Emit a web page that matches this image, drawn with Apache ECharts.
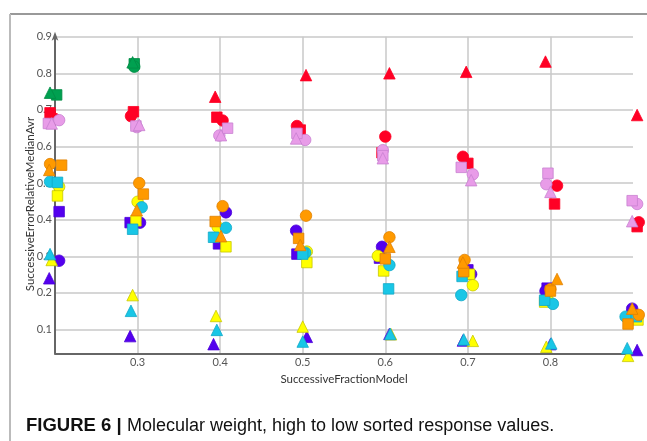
<!DOCTYPE html>
<html><head><meta charset="utf-8">
<script src="https://cdn.jsdelivr.net/npm/echarts@6/dist/echarts.min.js"></script>
<style>html,body{margin:0;padding:0;background:#fff}#c{width:647px;height:441px}</style>
</head><body><div id="c"></div>
<script>
// tick labels
const xTicks = [0.3, 0.4, 0.5, 0.6, 0.7, 0.8];
const yTicks = [0.1, 0.2, 0.3, 0.4, 0.5, 0.6, 0.7, 0.8, 0.9];
const xName = 'SuccessiveFractionModel';
const yName = 'SuccessiveErrorRelativeMedianAvr';
const captionLead = 'FIGURE 6 |';
const caption = 'Molecular weight, high to low sorted response values.';

// series values [x, y]
const blueTri   = [[0.193,0.24],[0.291,0.082],[0.392,0.06],[0.505,0.08],[0.605,0.088],[0.694,0.07],[0.8,0.06],[0.905,0.044]];
const blueSq    = [[0.205,0.422],[0.291,0.392],[0.398,0.334],[0.493,0.306],[0.593,0.295],[0.7,0.263],[0.796,0.213],[0.899,0.14]];
const blueCirc  = [[0.205,0.288],[0.303,0.392],[0.407,0.42],[0.492,0.37],[0.596,0.326],[0.704,0.251],[0.794,0.205],[0.899,0.157]];
const yellowTri = [[0.196,0.29],[0.294,0.194],[0.395,0.137],[0.5,0.108],[0.607,0.087],[0.706,0.069],[0.795,0.053],[0.894,0.028]];
const yellowCirc= [[0.205,0.49],[0.3,0.449],[0.397,0.38],[0.505,0.313],[0.591,0.301],[0.706,0.221],[0.797,0.18],[0.905,0.13]];
const yellowSq  = [[0.203,0.465],[0.298,0.397],[0.407,0.326],[0.505,0.283],[0.598,0.26],[0.702,0.251],[0.793,0.175],[0.906,0.126]];
const cyanTri   = [[0.194,0.306],[0.292,0.151],[0.396,0.099],[0.5,0.067],[0.606,0.088],[0.695,0.073],[0.801,0.062],[0.893,0.049]];
const cyanCirc  = [[0.194,0.504],[0.305,0.434],[0.407,0.378],[0.503,0.31],[0.605,0.276],[0.692,0.194],[0.803,0.17],[0.891,0.135]];
const cyanSq    = [[0.203,0.502],[0.294,0.374],[0.392,0.352],[0.5,0.306],[0.604,0.211],[0.693,0.245],[0.793,0.18],[0.904,0.135]];
const orangeCirc= [[0.194,0.552],[0.302,0.5],[0.403,0.437],[0.504,0.411],[0.605,0.352],[0.696,0.29],[0.8,0.21],[0.907,0.14]];
const orangeSq  = [[0.208,0.549],[0.307,0.47],[0.394,0.395],[0.495,0.349],[0.6,0.293],[0.695,0.258],[0.8,0.205],[0.894,0.115]];
const orangeTri = [[0.193,0.536],[0.299,0.426],[0.401,0.355],[0.497,0.331],[0.605,0.326],[0.694,0.283],[0.808,0.238],[0.899,0.157]];
const redTri    = [[0.2,0.68],[0.394,0.736],[0.504,0.795],[0.605,0.8],[0.698,0.804],[0.794,0.832],[0.905,0.686]];
const redCirc   = [[0.2,0.675],[0.292,0.683],[0.403,0.671],[0.493,0.656],[0.6,0.627],[0.694,0.572],[0.808,0.493],[0.907,0.393]];
const redSq     = [[0.194,0.692],[0.295,0.695],[0.396,0.68],[0.497,0.645],[0.596,0.583],[0.7,0.554],[0.805,0.443],[0.905,0.381]];
const violetCirc= [[0.205,0.672],[0.299,0.653],[0.399,0.63],[0.503,0.618],[0.597,0.59],[0.706,0.524],[0.795,0.497],[0.905,0.443]];
const violetSq  = [[0.192,0.663],[0.298,0.656],[0.409,0.65],[0.493,0.636],[0.597,0.575],[0.692,0.543],[0.797,0.527],[0.899,0.452]];
const violetTri = [[0.196,0.663],[0.302,0.659],[0.401,0.631],[0.492,0.622],[0.597,0.568],[0.704,0.508],[0.8,0.476],[0.899,0.396]];
const greenSq   = [[0.202,0.741],[0.296,0.826]];
const greenCirc = [[0.296,0.818]];
const greenTri  = [[0.194,0.747],[0.294,0.83]];

const C = {
  blue:   ['#5400ee', '#4a00d8'],
  yellow: ['#ffff00', '#c8c800'],
  cyan:   ['#19c6e6', '#10a8c8'],
  orange: ['#ff9a00', '#e08000'],
  red:    ['#ff0025', '#ff0025'],
  violet: ['#e89ce8', '#c880d0'],
  green:  ['#00a050', '#008a44']
};
const SYM = { circle: ['circle', 11.5], rect: ['rect', 10.5], triangle: ['triangle', 11.5] };

function s(data, color, shape) {
  return {
    type: 'scatter', data: data, clip: false,
    symbol: SYM[shape][0], symbolSize: SYM[shape][1],
    itemStyle: { color: C[color][0], borderColor: C[color][1], borderWidth: 0.8, opacity: 1 },
    emphasis: { disabled: true }
  };
}

const series = [
  s(blueTri,'blue','triangle'), s(blueSq,'blue','rect'), s(blueCirc,'blue','circle'),
  s(yellowTri,'yellow','triangle'), s(yellowCirc,'yellow','circle'), s(yellowSq,'yellow','rect'),
  s(cyanTri,'cyan','triangle'), s(cyanCirc,'cyan','circle'), s(cyanSq,'cyan','rect'),
  s(orangeCirc,'orange','circle'), s(orangeSq,'orange','rect'), s(orangeTri,'orange','triangle'),
  s(redTri,'red','triangle'), s(redCirc,'red','circle'), s(redSq,'red','rect'),
  s(violetCirc,'violet','circle'), s(violetSq,'violet','rect'), s(violetTri,'violet','triangle'),
  s(greenSq,'green','rect'), s(greenCirc,'green','circle'), s(greenTri,'green','triangle')
];

const FONT = 'Lato';
const chart = echarts.init(document.getElementById('c'), null, { renderer: 'canvas' });
chart.setOption({
  animation: false,
  backgroundColor: '#fff',
  grid: { left: 55, right: 14, top: 36.7, bottom: 87.7, containLabel: false },
  xAxis: {
    type: 'value', min: 0.2, max: 0.9,
    name: xName, nameLocation: 'middle', nameGap: 19,
    nameTextStyle: { color: '#333', fontSize: 11.5, fontFamily: FONT },
    axisLine: { show: true, onZero: false, lineStyle: { color: '#666', width: 2 } },
    axisTick: { show: false, customValues: xTicks },
    axisLabel: { customValues: xTicks, color: '#555', fontSize: 11, fontFamily: FONT, margin: 4,
      formatter: v => v.toFixed(1) },
    splitLine: { show: true, lineStyle: { color: '#c8c8c8', width: 1.5 } }
  },
  yAxis: {
    type: 'value', min: 0.035, max: 0.9,
    axisLine: { show: true, onZero: false, symbol: ['none', 'arrow'], symbolSize: [5, 9], symbolOffset: [0, 5],
      lineStyle: { color: '#666', width: 2 } },
    axisTick: { show: false, customValues: yTicks },
    axisLabel: { customValues: yTicks, color: '#555', fontSize: 11, fontFamily: FONT, margin: 3,
      formatter: v => v.toFixed(1) },
    splitLine: { show: true, lineStyle: { color: '#c8c8c8', width: 1.5 } }
  },
  graphic: [
    { type: 'line', shape: { x1: 10, y1: 14, x2: 647, y2: 14 }, style: { stroke: '#777', lineWidth: 1.5 } },
    { type: 'line', shape: { x1: 10, y1: 14, x2: 10, y2: 441 }, style: { stroke: '#bbb', lineWidth: 2 } },
    { type: 'text', x: 30, y: 204, rotation: Math.PI / 2,
      style: { text: yName, font: '11.5px Lato', fill: '#333', align: 'center', verticalAlign: 'middle' } },
    { type: 'text', x: 26, y: 426,
      style: { text: captionLead, font: 'bold 18.5px "Liberation Sans", Arial, sans-serif', fill: '#111',
        align: 'left', verticalAlign: 'middle' } },
    { type: 'text', x: 127, y: 426,
      style: { text: caption, font: '18px "Liberation Sans", Arial, sans-serif', fill: '#111',
        align: 'left', verticalAlign: 'middle' } }
  ],
  series: series
});
</script></body></html>
